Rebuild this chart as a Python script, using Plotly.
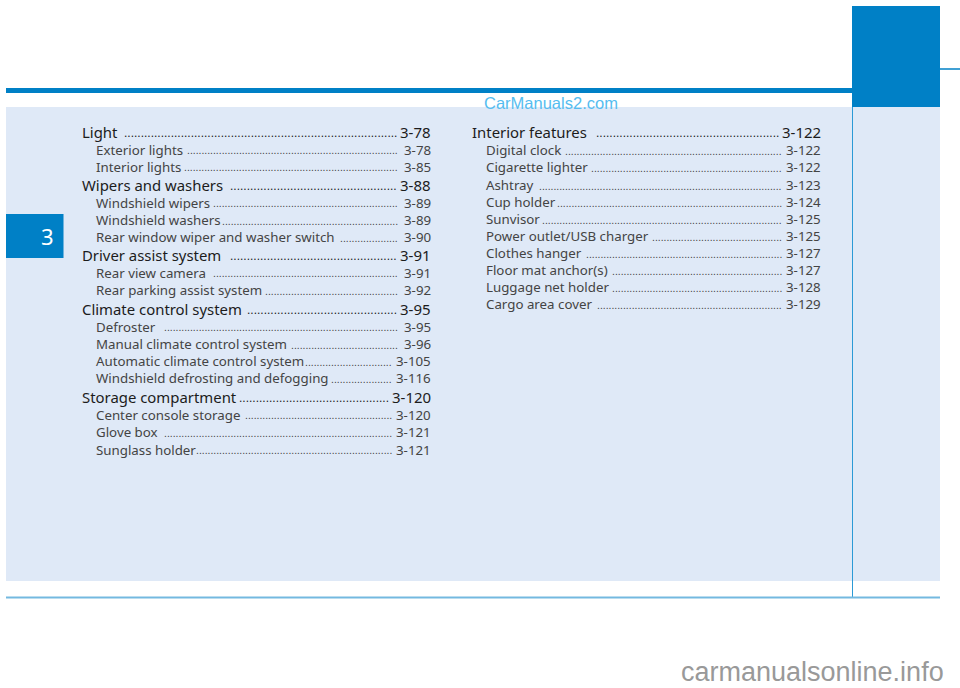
import plotly.graph_objects as go

left_titles = ["Light","Exterior lights","Interior lights","Wipers and washers","Windshield wipers","Windshield washers","Rear window wiper and washer switch","Driver assist system","Rear view camera","Rear parking assist system","Climate control system","Defroster","Manual climate control system","Automatic climate control system","Windshield defrosting and defogging","Storage compartment","Center console storage","Glove box","Sunglass holder"]
left_pages = ["3-78","3-78","3-85","3-88","3-89","3-89","3-90","3-91","3-91","3-92","3-95","3-95","3-96","3-105","3-116","3-120","3-120","3-121","3-121"]
left_head = [1,0,0,1,0,0,0,1,0,0,1,0,0,0,0,1,0,0,0]
left_dots = [82,73,74,50,64,61,20,50,64,46,45,81,37,30,21,45,51,79,68]

right_titles = ["Interior features","Digital clock","Cigarette lighter","Ashtray","Cup holder","Sunvisor","Power outlet/USB charger","Clothes hanger","Floor mat anchor(s)","Luggage net holder","Cargo area cover"]
right_pages = ["3-122","3-122","3-122","3-123","3-124","3-125","3-125","3-127","3-127","3-128","3-129"]
right_head = [1,0,0,0,0,0,0,0,0,0,0]
right_dots = [55,75,66,84,78,83,45,68,59,59,64]

left_rows = [132,149.5,166.5,185,202.5,220,237,255,272.5,290,309,326.5,344,361,378,396.7,414.5,432,449.5]
right_rows = [132,150,167,185,202,219,236,253,270,287,304]

BLUE = "#0080c6"
fig = go.Figure()
shapes = [
    dict(type="rect", x0=6, x1=940, y0=107, y1=581, fillcolor="#dfe9f7", line_width=0, layer="below"),
    dict(type="rect", x0=6, x1=852, y0=88, y1=93, fillcolor=BLUE, line_width=0),
    dict(type="rect", x0=852, x1=940, y0=6, y1=107, fillcolor=BLUE, line_width=0),
    dict(type="rect", x0=6, x1=63.5, y0=214, y1=258, fillcolor=BLUE, line_width=0),
    dict(type="line", x0=852.5, x1=852.5, y0=107, y1=597, line=dict(color="#2b9ad6", width=1)),
    dict(type="line", x0=6, x1=940, y0=597.5, y1=597.5, line=dict(color="#74b9e0", width=2)),
    dict(type="line", x0=940, x1=960, y0=69, y1=69, line=dict(color=BLUE, width=1.5)),
]
anns = []
def add(x, y, text, anchor, size, color, family="Noto Sans"):
    anns.append(dict(x=x, y=y, xref="x", yref="y", text=text, showarrow=False, xanchor=anchor, yanchor="middle",
                     align=anchor, font=dict(family=family, size=size, color=color), borderpad=0))

def column(titles, pages, heads, dots, rows, xh, xs, xr):
    for t, p, h, d, y in zip(titles, pages, heads, dots, rows):
        wide = len(p) > 4
        if h:
            add(xh, y, t, "left", 14.9, "#1c1c1c")
            add(xr, y, p, "right", 15, "#1c1c1c")
            add(xr - (42 if wide else 34), y + 1, "." * d, "right", 12, "#222222", "Liberation Sans")
        else:
            add(xs, y, t, "left", 13.3, "#444444")
            add(xr, y, p, "right", 13.3, "#444444")
            add(xr - (39 if wide else 33), y + 1, "." * d, "right", 10.4, "#444444", "Liberation Sans")

column(left_titles, left_pages, left_head, left_dots, left_rows, 81, 95, 432)
column(right_titles, right_pages, right_head, right_dots, right_rows, 471, 485, 822)
add(47.5, 236, "3", "center", 22, "white")
add(551, 103, "CarManuals2.com", "center", 16.5, "#55bdf0", "Liberation Sans")
add(812, 672, "carmanualsonline.info", "center", 27, "#999999", "Liberation Sans")

fig.update_layout(width=960, height=688, margin=dict(l=0, r=0, t=0, b=0), paper_bgcolor="white", plot_bgcolor="white",
                  shapes=shapes, annotations=anns, showlegend=False,
                  xaxis=dict(range=[0, 960], visible=False, fixedrange=True),
                  yaxis=dict(range=[688, 0], visible=False, fixedrange=True))
fig.write_html("out.html", config=dict(displayModeBar=False), post_script="document.body.style.margin='0';")
